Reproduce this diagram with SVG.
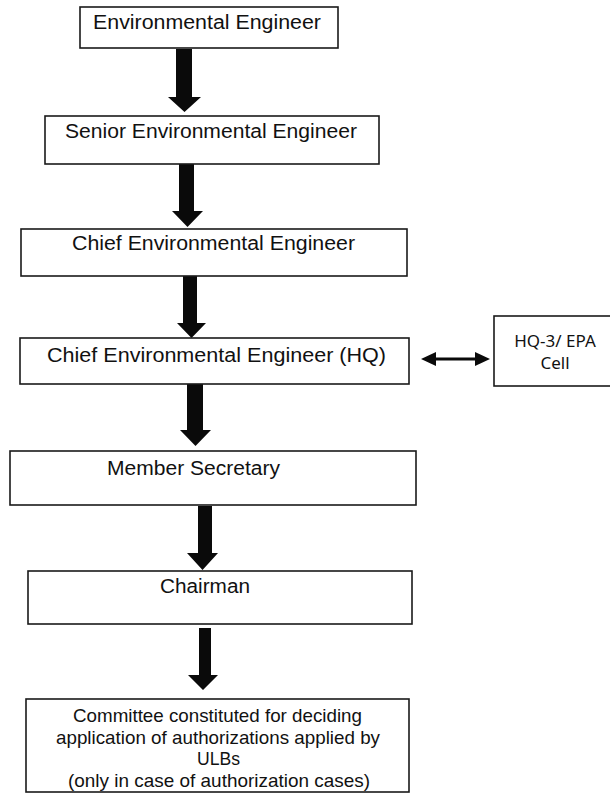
<svg xmlns="http://www.w3.org/2000/svg" width="610" height="793" viewBox="0 0 610 793">
<style>
.box{fill:#fff;stroke:#1a1a1a;stroke-width:1.6}
.t{font-family:"Liberation Sans",Arial,sans-serif;font-size:20px;fill:#111}
.t7{font-family:"Liberation Sans",Arial,sans-serif;font-size:19px;fill:#111}
.c{font-family:"Noto Sans","Open Sans",sans-serif;font-size:17px;fill:#111;text-anchor:middle}
.arr{fill:#0a0a0a}
</style>
<rect width="610" height="793" fill="#fff"/>
<g id="connectors">
<polygon class="arr" points="176,49 192,49 192,97 201,97 184.5,112 168,97 176,97"/>
<polygon class="arr" points="179,164 194,164 194,211 203,211 187.5,227 172,211 179,211"/>
<polygon class="arr" points="183,276 197,276 197,323 206,323 191.5,338 177,323 183,323"/>
<polygon class="arr" points="187,384 203,384 203,430 211,430 195.5,446 180,430 187,430"/>
<polygon class="arr" points="198,506 212,506 212,553 218,553 202.5,570 187,553 198,553"/>
<polygon class="arr" points="199,628 211,628 211,675 218,675 203,690 188,675 199,675"/>
<line x1="434" y1="359" x2="477" y2="359" stroke="#0a0a0a" stroke-width="3"/>
<polygon class="arr" points="421,359 436,352 436,366"/>
<polygon class="arr" points="490,359 475,352 475,366"/>
</g>
<g id="n1">
<rect class="box" x="80" y="7" width="258" height="41"/>
<text class="t" x="93" y="29" textLength="228" lengthAdjust="spacingAndGlyphs">Environmental Engineer</text>
</g>
<g id="n2">
<rect class="box" x="45" y="116" width="334" height="48"/>
<text class="t" x="65" y="138" textLength="292" lengthAdjust="spacingAndGlyphs">Senior Environmental Engineer</text>
</g>
<g id="n3">
<rect class="box" x="21" y="229" width="386" height="47"/>
<text class="t" x="72" y="250" textLength="283" lengthAdjust="spacingAndGlyphs">Chief Environmental Engineer</text>
</g>
<g id="n4">
<rect class="box" x="20" y="338" width="389" height="46"/>
<text class="t" x="47" y="362" textLength="339" lengthAdjust="spacingAndGlyphs">Chief Environmental Engineer (HQ)</text>
</g>
<g id="n_hq3">
<rect class="box" x="494" y="316" width="120" height="70"/>
<text class="c" x="555" y="347">HQ-3/ EPA</text>
<text class="c" x="555" y="369">Cell</text>
</g>
<g id="n5">
<rect class="box" x="10" y="451" width="406" height="54"/>
<text class="t" x="107" y="475" textLength="173" lengthAdjust="spacingAndGlyphs">Member Secretary</text>
</g>
<g id="n6">
<rect class="box" x="28" y="571" width="384" height="53"/>
<text class="t" x="160" y="593" textLength="90" lengthAdjust="spacingAndGlyphs">Chairman</text>
</g>
<g id="n7">
<rect class="box" x="26" y="699" width="383" height="93"/>
<text class="t7" x="73" y="722" textLength="289" lengthAdjust="spacingAndGlyphs">Committee constituted for deciding</text>
<text class="t7" x="56" y="744" textLength="324" lengthAdjust="spacingAndGlyphs">application of authorizations applied by</text>
<text class="t7" x="197" y="765" textLength="43" lengthAdjust="spacingAndGlyphs">ULBs</text>
<text class="t7" x="68" y="787" textLength="302" lengthAdjust="spacingAndGlyphs">(only in case of authorization cases)</text>
</g>
</svg>
